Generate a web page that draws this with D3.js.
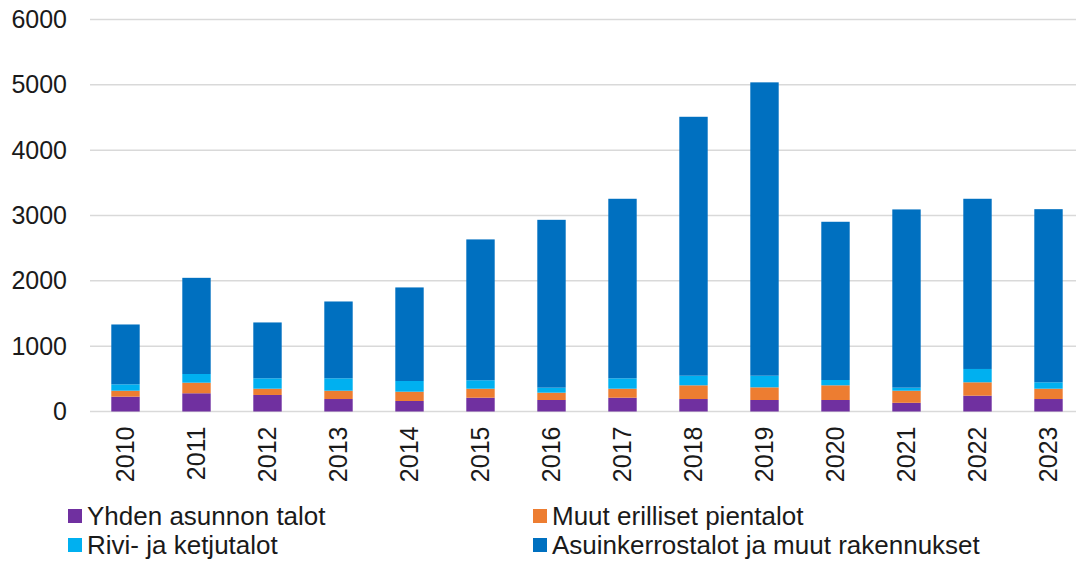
<!DOCTYPE html>
<html><head><meta charset="utf-8">
<script src="https://cdn.jsdelivr.net/npm/d3@7"></script>
<style>body{margin:0;background:#fff;} svg{display:block;font-family:"Liberation Sans",Arial,sans-serif;}</style>
</head><body><svg id="c" width="1076" height="561"></svg>
<script>
const years = ["2010","2011","2012","2013","2014","2015","2016","2017","2018","2019","2020","2021","2022","2023"];
const seriesNames = ["Yhden asunnon talot","Muut erilliset pientalot","Rivi- ja ketjutalot","Asuinkerrostalot ja muut rakennukset"];
const yhden = [227,279,253,191,161,211,176,211,191,176,176,133,242,191];
const muut = [91,162,96,127,142,138,112,138,210,194,225,185,205,158];
const rivi = [98,133,159,190,164,129,77,159,147,178,81,47,204,98];
const asuin = [916,1472,855,1176,1432,2156,2569,2748,3963,4490,2422,2728,2605,2650];
const yTicks = [0,1000,2000,3000,4000,5000,6000];
const colors = ["#7030A0","#ED7D31","#00B0F0","#0070C0"];

const svg = d3.select("#c");
const rows = years.map((y,i)=>({year:y, s0:yhden[i], s1:muut[i], s2:rivi[i], s3:asuin[i]}));
const stack = d3.stack().keys(["s0","s1","s2","s3"])(rows);

const x = d3.scaleBand().domain(years).range([90,1084]).paddingInner(0.6).paddingOuter(0.3);
const y = d3.scaleLinear().domain([0,6000]).range([411.5,19.5]);

// grid
svg.append("g").selectAll("line").data(yTicks).join("line")
  .attr("x1",90).attr("x2",1076).attr("y1",d=>y(d)).attr("y2",d=>y(d))
  .attr("stroke","#d9d9d9").attr("stroke-width",1.5);

// y labels
const yAxis = d3.axisLeft(y).tickValues(yTicks).tickSize(0).tickPadding(0).tickFormat(d3.format("d"));
const ga = svg.append("g").attr("transform","translate(67,0)").call(yAxis);
ga.select(".domain").remove();
ga.selectAll("text").attr("font-size",25).attr("fill","#1a1a1a").attr("font-family","Liberation Sans, Arial, sans-serif");

// bars
svg.append("g").selectAll("g").data(stack).join("g").attr("fill",(d,i)=>colors[i])
  .selectAll("rect").data(d=>d).join("rect")
  .attr("x",d=>x(d.data.year)).attr("width",x.bandwidth())
  .attr("y",d=>y(d[1])).attr("height",d=>y(d[0])-y(d[1]));

// x labels
const xAxis = d3.axisBottom(x).tickSize(0).tickPadding(0);
const gx = svg.append("g").attr("transform","translate(0,411.5)").call(xAxis);
gx.select(".domain").remove();
gx.selectAll("text").attr("font-size",25).attr("fill","#1a1a1a").attr("font-family","Liberation Sans, Arial, sans-serif")
  .attr("transform","rotate(-90)").attr("text-anchor","end").attr("x",-15).attr("y",0).attr("dy","0.35em");

// legend
const legX = [68,533], legY = [516,545];
const lg = svg.append("g").selectAll("g").data(seriesNames).join("g")
  .attr("transform",(d,i)=>`translate(${legX[i%2]},${legY[Math.floor(i/2)]})`);
lg.append("rect").attr("x",0).attr("y",-7).attr("width",14).attr("height",14).attr("fill",(d,i)=>colors[i]);
lg.append("text").attr("x",19).attr("y",0).attr("dy","0.35em").attr("font-size",26).attr("fill","#1a1a1a").text(d=>d);
</script></body></html>
